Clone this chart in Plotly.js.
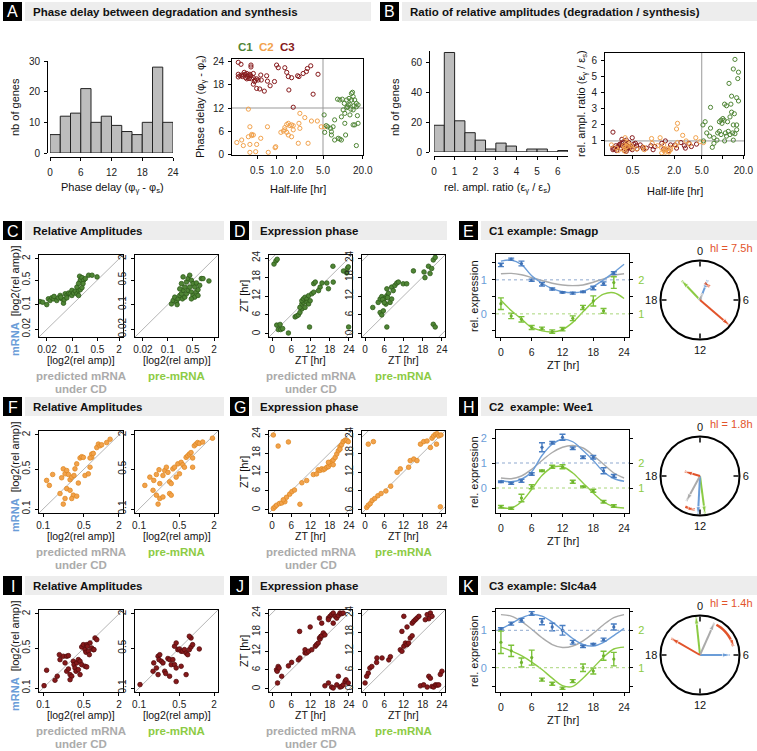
<!DOCTYPE html>
<html>
<head>
<meta charset="utf-8">
<script src="https://cdn.plot.ly/plotly-3.0.1.min.js"></script>
<style>
  html, body { margin: 0; padding: 0; background: #fff; }
  #fig { width: 757px; height: 751px; }
</style>
</head>
<body>
<div id="fig"></div>
<script>
'use strict';

const W = 757, H = 751;
const FONT = '"Liberation Sans", Arial, Helvetica, sans-serif';

const C1_COL = '#4f8535', C2_COL = '#f2a24c', C3_COL = '#86191b';
const MRNA_COL = '#6b9dd8', PRE_COL = '#8ccb44', PRED_COL = '#ababab', DEG_COL = '#e2542b';

// A: histogram of phase delays
const delayBinCenters = [1, 3, 5, 7, 9, 11, 13, 15, 17, 19, 21, 23];
const delayCounts = [6, 12, 13, 21, 10, 12, 9, 7, 6, 10, 28, 10];

// B: histogram of relative amplitude ratios
const ratioBinCenters = [0.25, 0.75, 1.25, 1.75, 2.25, 2.75, 3.25, 3.75, 4.25, 4.75, 5.25, 5.75, 6.25];
const ratioCounts = [18, 67, 21, 13, 8, 2, 6, 4, 0, 2, 2, 0, 1];

// A/B scatter: half-life, phase delay and amplitude ratio per gene
const c1HalfLife = [5.2, 5.6, 5.3, 5.9, 6.5, 7.1, 6.7, 7.5, 8.5, 9.0, 9.5, 8.3, 9.0, 10.5, 10.7, 9.5, 11.4, 11.8, 12.1, 12.8, 13.5, 14.3, 15.1, 16.0, 16.0, 17.0, 14.0, 13.5, 14.3, 12.8, 15.1, 14.3, 17.0, 16.0, 10.7, 7.5, 10.1, 12.4, 14.8, 11.4, 13.2, 16.6, 11.0, 6.7, 9.8];
const c1Delay = [10.2, 7.4, 5.65, 7.1, 6.7, 7.1, 5.8, 3.65, 4.1, 3.9, 3.65, 14.3, 14.1, 13.2, 10.6, 9.7, 14.1, 12.3, 12.8, 13.0, 14.1, 15.0, 14.1, 12.3, 13.2, 12.8, 16.1, 15.8, 11.5, 10.2, 7.6, 7.6, 8.0, 2.2, 8.0, 8.9, 11.5, 14.5, 12.6, 12.1, 11.7, 10.0, 4.96, 4.96, 14.3];
const c1Ratio = [2.0, 2.2, 1.0, 1.5, 1.3, 0.6, 3.1, 0.85, 1.5, 2.2, 2.3, 1.05, 1.6, 2.3, 3.3, 1.4, 3.2, 2.2, 1.6, 1.4, 3.8, 5.5, 6.1, 3.7, 2.0, 5.3, 1.5, 2.8, 1.05, 2.5, 1.45, 2.0, 3.5, 1.7, 1.0, 1.2, 2.4, 4.6, 2.7, 1.3, 3.3, 4.9, 1.5, 1.8, 2.1];

const c2HalfLife = [0.37, 0.247, 0.293, 0.31, 0.39, 0.415, 0.39, 0.415, 0.37, 0.44, 0.494, 0.39, 0.477, 0.57, 0.72, 0.74, 0.96, 0.94, 1.15, 1.25, 1.32, 1.41, 1.49, 1.58, 1.67, 1.77, 1.41, 1.49, 1.67, 2.11, 2.16, 2.23, 2.23, 2.65, 2.97, 3.34, 4.1, 4.7, 5.3, 1.77, 1.32];
const c2Delay = [11.7, 3.0, 3.65, 2.2, 2.5, 4.8, 7.1, 5.1, 4.5, 4.96, 2.5, 0.43, 0.6, 4.1, 7.1, 0.43, 1.9, 1.65, 5.65, 6.0, 6.9, 7.7, 8.0, 7.4, 7.6, 7.4, 5.65, 4.96, 4.5, 2.8, 8.0, 6.7, 10.6, 9.5, 2.8, 8.6, 8.6, 7.1, 7.1, 6.3, 6.3];
const c2Ratio = [0.7, 0.75, 0.55, 0.4, 0.6, 0.9, 1.2, 0.65, 0.45, 0.8, 0.55, 0.35, 0.7, 0.5, 0.6, 0.45, 0.85, 1.15, 0.7, 1.2, 0.55, 0.4, 0.3, 0.5, 0.35, 0.6, 0.75, 0.45, 0.3, 0.7, 1.75, 2.1, 0.9, 1.35, 1.0, 0.8, 1.2, 0.95, 0.9, 0.45, 0.25];

const c3HalfLife = [0.26, 0.286, 0.26, 0.26, 0.276, 0.31, 0.329, 0.35, 0.37, 0.39, 0.336, 0.36, 0.378, 0.405, 0.415, 0.44, 0.47, 0.494, 0.52, 0.405, 0.405, 0.57, 0.58, 0.44, 0.494, 0.55, 0.645, 0.79, 0.92, 0.70, 0.72, 0.99, 1.05, 1.32, 1.41, 1.49, 1.67, 2.06, 2.16, 2.5, 2.8, 2.9, 3.26, 4.2, 1.52, 3.54, 1.77, 0.30, 0.32, 0.46, 0.35, 0.293, 0.44];
const c3Delay = [23.9, 23.4, 20.8, 20.1, 20.4, 20.6, 20.8, 21.0, 20.6, 20.8, 19.9, 20.2, 19.7, 20.4, 19.6, 19.9, 19.3, 19.6, 19.3, 23.2, 22.7, 20.6, 19.3, 18.2, 17.1, 16.96, 16.4, 17.8, 18.9, 20.4, 19.0, 23.2, 22.5, 22.5, 21.3, 20.2, 19.9, 20.4, 20.2, 21.0, 21.5, 22.3, 23.0, 20.8, 16.7, 15.6, 12.2, 20.2, 21.3, 18.9, 19.6, 20.6, 21.0];
const c3Ratio = [0.55, 0.7, 1.55, 0.45, 0.5, 0.65, 0.8, 1.1, 0.95, 0.6, 0.55, 0.7, 0.4, 0.75, 0.5, 0.9, 0.65, 0.45, 0.8, 1.05, 0.35, 0.7, 0.5, 0.6, 1.2, 0.85, 0.75, 0.55, 0.7, 0.6, 0.5, 0.45, 0.65, 0.85, 0.5, 1.0, 0.4, 0.75, 0.55, 0.9, 0.7, 0.55, 0.85, 0.8, 0.45, 0.65, 0.75, 0.6, 0.75, 0.55, 0.85, 0.4, 0.65];

// C/F/I: relative amplitudes (x: predicted or pre-mRNA, y: mRNA)
const c1AmpPredX = [0.0128, 0.0152, 0.0197, 0.0219, 0.0244, 0.0272, 0.0302, 0.0315, 0.0374, 0.0417, 0.0464, 0.0516, 0.0575, 0.06, 0.064, 0.0713, 0.0794, 0.0883, 0.0983, 0.0983, 0.109, 0.122, 0.1355, 0.151, 0.168, 0.187, 0.1355, 0.168, 0.161, 0.187, 0.208, 0.232, 0.151, 0.287, 0.356, 0.49, 0.0713, 0.0484, 0.2, 0.151];
const c1AmpPredY = [0.122, 0.117, 0.10, 0.146, 0.131, 0.156, 0.146, 0.171, 0.131, 0.156, 0.182, 0.146, 0.11, 0.137, 0.203, 0.182, 0.213, 0.203, 0.254, 0.182, 0.213, 0.243, 0.203, 0.254, 0.265, 0.303, 0.316, 0.492, 0.641, 0.586, 0.492, 0.549, 0.182, 0.684, 0.684, 0.613, 0.156, 0.163, 0.395, 0.40];
const c1AmpPreX = [0.127, 0.1415, 0.157, 0.175, 0.195, 0.217, 0.242, 0.269, 0.258, 0.3, 0.334, 0.372, 0.413, 0.46, 0.512, 0.57, 0.635, 0.706, 0.334, 0.372, 0.46, 0.512, 0.57, 0.635, 0.787, 0.875, 0.975, 1.43, 0.242, 0.269, 0.413, 0.3, 0.217, 0.183, 0.46, 0.706];
const c1AmpPreY = [0.105, 0.131, 0.163, 0.117, 0.146, 0.182, 0.203, 0.254, 0.146, 0.163, 0.203, 0.254, 0.316, 0.228, 0.182, 0.163, 0.228, 0.265, 0.44, 0.549, 0.492, 0.395, 0.316, 0.413, 0.353, 0.549, 0.549, 0.47, 0.395, 0.613, 0.684, 0.316, 0.28, 0.1, 0.146, 0.182];

const c2AmpPredX = [0.115, 0.128, 0.146, 0.208, 0.222, 0.238, 0.254, 0.272, 0.29, 0.31, 0.339, 0.352, 0.377, 0.402, 0.43, 0.459, 0.49, 0.523, 0.597, 0.638, 0.682, 0.682, 0.726, 0.832, 0.886, 0.946, 1.01, 1.23, 1.41, 0.638, 0.254, 0.29, 0.33, 0.377, 0.195, 0.238, 0.31, 0.222];
const c2AmpPredY = [0.318, 0.26, 0.404, 0.354, 0.507, 0.415, 0.474, 0.404, 0.327, 0.363, 0.388, 0.507, 0.62, 0.286, 0.787, 0.83, 0.807, 0.388, 0.415, 0.542, 0.922, 0.807, 0.947, 1.2, 1.38, 1.29, 1.34, 1.47, 1.68, 0.787, 0.228, 0.213, 0.175, 0.168, 0.187, 0.153, 0.153, 0.122];
const c2AmpPreX = [0.126, 0.154, 0.18, 0.2, 0.222, 0.229, 0.26, 0.279, 0.298, 0.317, 0.339, 0.362, 0.386, 0.413, 0.441, 0.471, 0.503, 0.538, 0.574, 0.614, 0.656, 0.699, 0.746, 0.798, 0.851, 0.91, 0.972, 1.04, 1.11, 1.27, 1.88, 0.851, 0.2, 0.229, 0.26, 0.339, 0.362, 0.175, 0.214];
const c2AmpPreY = [0.26, 0.363, 0.318, 0.404, 0.49, 0.28, 0.388, 0.474, 0.542, 0.44, 0.3, 0.28, 0.507, 0.542, 0.363, 0.62, 0.415, 0.66, 0.6, 0.542, 0.807, 0.86, 0.922, 0.98, 0.787, 1.29, 1.38, 1.47, 1.42, 1.5, 1.75, 0.542, 0.175, 0.153, 0.163, 0.187, 0.175, 0.213, 0.122];

const c3AmpPredX = [0.104, 0.115, 0.16, 0.175, 0.19, 0.195, 0.222, 0.238, 0.254, 0.272, 0.254, 0.272, 0.29, 0.31, 0.33, 0.339, 0.352, 0.377, 0.402, 0.43, 0.459, 0.367, 0.43, 0.459, 0.49, 0.523, 0.544, 0.56, 0.574, 0.597, 0.638, 0.682, 0.726, 0.621, 0.523, 0.56, 0.777, 0.832, 0.746, 0.402, 0.29];
const c3AmpPredY = [0.11, 0.205, 0.137, 0.161, 0.385, 0.315, 0.361, 0.276, 0.361, 0.37, 0.197, 0.216, 0.172, 0.161, 0.295, 0.257, 0.225, 0.276, 0.315, 0.295, 0.257, 0.197, 0.172, 0.526, 0.577, 0.472, 0.425, 0.577, 0.541, 0.442, 0.618, 0.505, 0.472, 0.385, 0.241, 0.235, 0.757, 0.707, 0.472, 0.21, 0.14];
const c3AmpPreX = [0.104, 0.175, 0.18, 0.2, 0.214, 0.222, 0.229, 0.244, 0.26, 0.279, 0.29, 0.317, 0.339, 0.362, 0.386, 0.413, 0.441, 0.413, 0.441, 0.471, 0.503, 0.538, 0.538, 0.574, 0.614, 0.656, 0.699, 0.746, 0.798, 0.851, 0.798, 0.746, 1.11, 0.656, 0.441, 0.339, 0.214];
const c3AmpPreY = [0.115, 0.197, 0.276, 0.225, 0.361, 0.315, 0.385, 0.295, 0.276, 0.197, 0.18, 0.33, 0.315, 0.257, 0.315, 0.541, 0.618, 0.257, 0.225, 0.472, 0.485, 0.442, 0.241, 0.442, 0.472, 0.41, 0.385, 0.472, 0.526, 0.577, 0.757, 0.81, 0.485, 0.172, 0.13, 0.161, 0.172];

// D/G/J: expression phases in ZT hours (x: predicted or pre-mRNA, y: mRNA)
const c1PhasePredX = [0.6, 1.2, 1.6, 7.2, 7.7, 8.2, 8.7, 9.3, 8.7, 9.3, 9.8, 9.3, 9.8, 10.3, 10.9, 10.3, 10.9, 11.4, 11.9, 11.4, 12.4, 13.0, 13.0, 13.5, 15.0, 14.5, 15.6, 17.1, 17.6, 19.1, 22.3, 23.3, 23.5, 23.8, 19.0, 1.45, 1.95, 2.5, 2.7, 3.3, 5.1, 11.7, 23.9];
const c1PhasePredY = [22.1, 23.1, 23.6, 5.4, 5.7, 6.0, 6.8, 7.9, 8.4, 9.5, 10.0, 10.5, 11.1, 11.6, 11.1, 8.4, 10.0, 9.5, 10.5, 12.1, 12.7, 13.2, 15.9, 16.4, 14.8, 13.7, 16.1, 16.1, 14.3, 16.4, 19.9, 19.3, 20.7, 21.2, 21.4, 2.8, 1.4, 3.0, 1.4, 1.7, 0.3, 2.2, 2.2];
const c1PhasePreX = [2.4, 4.1, 4.7, 5.2, 5.7, 6.2, 6.8, 7.3, 7.8, 6.5, 8.3, 4.7, 5.2, 5.7, 6.8, 8.3, 8.8, 9.3, 9.9, 10.4, 11.9, 13.0, 15.1, 18.4, 18.7, 19.8, 20.3, 20.8, 21.3, 21.9, 6.8, 21.3, 21.9, 5.5, 6.0, 7.0];
const c1PhasePreY = [8.37, 9.98, 11.05, 11.8, 10.5, 11.37, 12.1, 12.87, 9.98, 9.44, 11.05, 6.77, 6.02, 7.3, 14.26, 14.8, 13.7, 15.33, 16.08, 16.4, 15.86, 15.86, 19.93, 19.6, 17.8, 21.4, 19.1, 20.7, 23.4, 24.2, 2.2, 3.05, 2.2, 10.9, 9.9, 11.5];

const c2PhasePredX = [0.4, 1.9, 5.1, 9.3, 10.8, 12.9, 13.9, 14.4, 14.98, 15.5, 16.0, 16.5, 17.1, 17.6, 18.1, 18.6, 19.1, 19.7, 20.2, 20.7, 21.2, 21.7, 22.2, 22.8, 23.3, 23.8, 21.2, 17.6, 19.1, 0.4, 0.9, 1.4, 2.3, 3.0, 4.0, 8.7, 5.5, 6.2, 7.0, 4.5, 3.5];
const c2PhasePredY = [23.7, 20.2, 21.5, 8.6, 9.3, 11.2, 11.4, 12.7, 12.5, 13.0, 12.7, 13.0, 13.5, 13.7, 14.5, 15.3, 15.8, 16.6, 17.7, 18.7, 19.96, 20.6, 21.6, 22.05, 22.05, 21.6, 19.2, 15.05, 14.3, 0.5, 1.0, 1.5, 2.05, 2.2, 2.6, 1.8, 5.0, 5.8, 6.3, 4.0, 3.2];
const c2PhasePreX = [1.0, 2.6, 10.0, 11.0, 13.6, 14.1, 15.2, 16.2, 17.3, 18.3, 19.35, 20.4, 20.9, 21.4, 21.95, 22.5, 23.0, 23.7, 22.3, 0.5, 1.0, 1.6, 2.2, 3.0, 4.0, 5.0, 6.5, 8.0, 23.5];
const c2PhasePreY = [20.8, 21.6, 11.9, 13.0, 13.5, 15.6, 16.1, 15.6, 20.8, 21.6, 21.8, 19.75, 22.7, 23.4, 23.9, 24.1, 23.4, 23.7, 20.8, 0.8, 1.5, 2.0, 3.0, 3.6, 4.5, 5.2, 6.0, 7.5, 1.0];

const c3PhasePredX = [1.4, 1.6, 1.9, 2.2, 1.7, 3.0, 5.1, 6.1, 8.2, 8.7, 8.6, 11.9, 10.3, 10.3, 10.8, 11.4, 12.4, 13.5, 13.9, 14.4, 14.8, 14.98, 15.2, 15.5, 16.0, 16.5, 14.8, 15.5, 17.6, 18.1, 18.6, 19.1, 19.7, 20.2, 20.7, 21.2, 19.1, 21.7, 22.2, 17.6, 16.5, 17.6, 18.6, 19.1, 20.2, 20.7, 21.2, 21.7, 22.2, 22.8, 23.1, 23.8];
const c3PhasePredY = [6.07, 5.6, 7.1, 6.6, 1.9, 4.0, 7.3, 8.4, 9.2, 9.8, 18.2, 19.6, 11.4, 12.4, 11.4, 11.9, 12.4, 13.5, 14.0, 14.5, 16.1, 15.8, 16.6, 16.8, 17.7, 17.1, 22.4, 20.8, 22.4, 22.96, 23.5, 24.0, 22.96, 22.4, 23.2, 24.0, 20.8, 23.8, 24.0, 21.9, 1.0, 1.9, 0.6, 0.3, 1.3, 4.0, 0.6, 0.8, 1.3, 2.4, 2.9, 1.9];
const c3PhasePreX = [0.0, 0.5, 1.0, 1.5, 2.1, 3.6, 3.7, 5.3, 7.4, 7.9, 11.0, 11.5, 12.1, 12.6, 13.1, 13.6, 14.1, 14.7, 11.5, 13.1, 14.7, 15.2, 15.7, 16.2, 16.8, 12.1, 19.4, 20.4, 20.9, 19.9, 18.8, 17.3, 18.3, 19.4, 19.9, 20.4, 20.9, 21.4, 22.0, 22.5, 23.0, 23.5, 24.0];
const c3PhasePreY = [1.9, 4.0, 5.0, 6.6, 7.1, 8.4, 9.8, 9.8, 9.2, 10.2, 12.4, 11.9, 13.5, 14.5, 14.0, 14.5, 16.1, 16.8, 18.2, 19.6, 20.8, 21.4, 21.9, 22.4, 22.96, 22.96, 23.5, 24.0, 22.96, 22.2, 21.9, 1.0, 1.3, 0.6, 4.0, 3.4, 0.8, 0.6, 1.3, 1.2, 1.3, 4.6, 5.6];

// E/H/K: example genes (mRNA on left axis, pre-mRNA on right axis)
const ZT = [0, 2, 4, 6, 8, 10, 12, 14, 16, 18, 20, 22];
const ZT_FIT = [0, 2, 4, 6, 8, 10, 12, 14, 16, 18, 20, 22, 24];

const smagpMrna = [1.44, 1.61, 1.48, 0.99, 0.87, 0.73, 0.63, 0.61, 0.65, 0.76, 0.89, 1.2];
const smagpMrnaErr = [0.05, 0.03, 0.07, 0.03, 0.05, 0.03, 0.02, 0.03, 0.02, 0.05, 0.05, 0.04];
const smagpPre = [1.30, 0.94, 0.84, 0.60, 0.57, 0.48, 0.55, 0.87, 1.19, 1.38, 1.09, 1.92];
const smagpPreErr = [0.17, 0.08, 0.08, 0.06, 0.04, 0.05, 0.05, 0.07, 0.06, 0.15, 0.07, 0.17];
const smagpMrnaFit = [1.55, 1.58, 1.45, 1.12, 0.9, 0.74, 0.65, 0.62, 0.66, 0.8, 1.0, 1.22, 1.46];
const smagpPredFit = [1.18, 1.19, 1.15, 1.07, 0.98, 0.9, 0.85, 0.83, 0.85, 0.93, 1.03, 1.13, 1.18];
const smagpPreFit = [1.4, 1.1, 0.85, 0.6, 0.5, 0.47, 0.54, 0.75, 1.06, 1.36, 1.58, 1.62, 1.45];

const wee1Mrna = [0.25, 0.19, 0.29, 0.56, 1.63, 1.81, 2.03, 1.59, 1.23, 1.23, 0.69, 0.48];
const wee1MrnaErr = [0.03, 0.04, 0.06, 0.05, 0.18, 0.05, 0.12, 0.05, 0.05, 0.07, 0.12, 0.06];
const wee1Pre = [0.25, 0.19, 0.6, 1.05, 1.69, 1.85, 1.85, 1.25, 1.05, 0.89, 0.45, 0.28];
const wee1PreErr = [0.05, 0.04, 0.15, 0.08, 0.03, 0.06, 0.08, 0.06, 0.03, 0.06, 0.05, 0.05];
const wee1MrnaFit = [0.3, 0.25, 0.35, 0.65, 1.3, 1.75, 1.95, 1.85, 1.5, 1.1, 0.65, 0.38, 0.27];
const wee1PredFit = [0.4, 0.37, 0.48, 0.75, 1.1, 1.42, 1.63, 1.7, 1.6, 1.3, 0.95, 0.6, 0.4];
const wee1PreFit = [0.22, 0.2, 0.45, 0.95, 1.5, 1.82, 1.85, 1.6, 1.2, 0.8, 0.45, 0.25, 0.2];

const slcMrna = [1.04, 1.18, 1.27, 1.45, 1.23, 1.09, 1.0, 0.68, 0.57, 0.63, 0.75, 1.09];
const slcMrnaErr = [0.03, 0.04, 0.05, 0.05, 0.08, 0.1, 0.13, 0.05, 0.03, 0.02, 0.04, 0.08];
const slcPre = [1.68, 1.45, 1.14, 1.27, 0.68, 0.57, 0.45, 0.64, 1.0, 0.91, 1.32, 1.23];
const slcPreErr = [0.3, 0.15, 0.12, 0.2, 0.04, 0.04, 0.03, 0.04, 0.1, 0.08, 0.12, 0.18];
const slcMrnaFit = [1.03, 1.18, 1.33, 1.42, 1.38, 1.22, 1.0, 0.78, 0.62, 0.58, 0.68, 0.86, 1.05];
const slcPredFit = [1.42, 1.38, 1.24, 1.03, 0.8, 0.62, 0.54, 0.58, 0.72, 0.92, 1.15, 1.34, 1.42];
const slcPreFit = [1.55, 1.45, 1.32, 1.15, 0.95, 0.72, 0.52, 0.5, 0.72, 1.0, 1.28, 1.5, 1.55];

// clock diagrams: arrows for pre-mRNA, mRNA, predicted mRNA, degradation
const arrowColours = [PRE_COL, MRNA_COL, PRED_COL, DEG_COL];
const smagpArrowZT = [21.1, 1.4, 1.2, 8.7];
const smagpArrowLen = [0.67, 0.54, 0.18, 0.98];
const wee1ArrowZT = [11.5, 12.2, 13.9, 19.1];
const wee1ArrowLen = [0.96, 0.97, 0.72, 0.4];
const slcArrowZT = [23.6, 6.0, 1.6, 20.0];
const slcArrowLen = [0.98, 0.76, 0.89, 0.84];

const HL_CUT = 5, DELAY_CUT = 12, RATIO_CUT = 1;

// ------------------------------------------------------------------
const data = [];
const layout = {
  width: W, height: H,
  margin: {l: 0, r: 0, t: 0, b: 0},
  showlegend: false,
  paper_bgcolor: '#fff', plot_bgcolor: 'rgba(0,0,0,0)',
  font: {family: FONT, size: 10, color: '#111'},
  shapes: [], annotations: []
};

const AXIS = {
  showline: true, linecolor: '#000', linewidth: 1,
  ticks: 'outside', ticklen: 3, tickwidth: 1, tickcolor: '#000',
  showgrid: false, zeroline: false, fixedrange: true,
  tickfont: {family: FONT, size: 10, color: '#222'}
};

function xdom(a, b) { return [a / W, b / W]; }
function ydom(top, bot) { return [1 - bot / H, 1 - top / H]; }

let nx = 0, ny = 0;
function subplot(xo, yo) {
  nx++; ny++;
  const xid = nx === 1 ? 'x' : 'x' + nx;
  const yid = ny === 1 ? 'y' : 'y' + ny;
  layout[xid.replace('x', 'xaxis')] = Object.assign({}, AXIS, {anchor: yid}, xo);
  layout[yid.replace('y', 'yaxis')] = Object.assign({}, AXIS, {anchor: xid}, yo);
  return {x: xid, y: yid};
}
function overlayY(base, opts) {
  ny++;
  layout['yaxis' + ny] = Object.assign({}, AXIS, {overlaying: base.y, anchor: base.x, side: 'right'}, opts);
  return 'y' + ny;
}

function txt(x, y, text, opts) {
  layout.annotations.push(Object.assign({
    x: x / W, y: 1 - y / H, xref: 'paper', yref: 'paper', text: text,
    showarrow: false, xanchor: 'center', yanchor: 'middle',
    font: {family: FONT, size: 11, color: '#111'}
  }, opts || {}));
}

function header(letter, title, lx, bx0, bx1, top) {
  layout.shapes.push({type: 'rect', xref: 'paper', yref: 'paper', x0: bx0 / W, x1: bx1 / W,
    y0: 1 - (top + 19) / H, y1: 1 - top / H, fillcolor: '#ededed', line: {width: 0}, layer: 'below'});
  layout.shapes.push({type: 'rect', xref: 'paper', yref: 'paper', x0: lx / W, x1: (lx + 19) / W,
    y0: 1 - (top + 19) / H, y1: 1 - top / H, fillcolor: '#000', line: {width: 0}, layer: 'below'});
  txt(lx + 9.5, top + 10, letter, {font: {family: FONT, size: 16, color: '#fff'}});
  txt(bx0 + 6, top + 10, '<b>' + title + '</b>', {xanchor: 'left', font: {family: FONT, size: 11.5, color: '#111'}});
}

function refLine(sp, xs, ys, col) {
  data.push({type: 'scatter', mode: 'lines', x: xs, y: ys, xaxis: sp.x, yaxis: sp.y,
    line: {color: col || '#b5b5b5', width: 1}, hoverinfo: 'skip'});
}

// ------------------------------------------------------------------
// row 1 headers
header('A', 'Phase delay between degradation and synthesis', 3, 25, 371, 2);
header('B', 'Ratio of relative amplitudes (degradation / synthesis)', 380, 402, 757, 2);

// A histogram
const hA = subplot(
  {domain: xdom(50, 173), range: [0, 24], tickvals: [0, 6, 12, 18, 24], anchor: 'free', position: 1 - 157 / H, ticklabelstandoff: 3},
  {domain: ydom(61, 153), range: [0, 30], tickvals: [0, 10, 20, 30], anchor: 'free', position: 47 / W, ticklabelstandoff: 2});
data.push({type: 'bar', x: delayBinCenters, y: delayCounts, width: 2, xaxis: hA.x, yaxis: hA.y,
  marker: {color: '#bdbdbd', line: {color: '#222', width: 1}}});
txt(15, 107, 'nb of genes', {textangle: -90});
txt(112, 188, 'Phase delay (φ<sub>γ</sub> - φ<sub>s</sub>)');

// A scatter
const sA = subplot(
  {domain: xdom(232, 363), type: 'log', range: [-0.68, 1.305], tickvals: [0.5, 1, 2, 5, 20],
   ticktext: ['0.5', '1.0', '2.0', '5.0', '20.0'], mirror: true, ticklabelstandoff: 3},
  {domain: ydom(59, 155), range: [-0.26, 24.78], tickvals: [0, 6, 12, 18, 24], mirror: true, ticklabelstandoff: 2});
refLine(sA, [HL_CUT, HL_CUT], [-5, 30], '#999');
refLine(sA, [0.05, 50], [DELAY_CUT, DELAY_CUT], '#999');
[[c3HalfLife, c3Delay, C3_COL], [c2HalfLife, c2Delay, C2_COL], [c1HalfLife, c1Delay, C1_COL]].forEach(function (s) {
  data.push({type: 'scatter', mode: 'markers', x: s[0], y: s[1], xaxis: sA.x, yaxis: sA.y,
    marker: {symbol: 'circle-open', size: 4.2, color: s[2], line: {width: 1}}});
});
txt(201, 107, 'Phase delay (φ<sub>γ</sub> - φ<sub>s</sub>)', {textangle: -90});
txt(298, 189, 'Half-life [hr]');
txt(245, 47, '<b>C1</b>', {font: {family: FONT, size: 11.5, color: C1_COL}});
txt(266, 47, '<b>C2</b>', {font: {family: FONT, size: 11.5, color: C2_COL}});
txt(287, 47, '<b>C3</b>', {font: {family: FONT, size: 11.5, color: C3_COL}});

// B histogram
const hB = subplot(
  {domain: xdom(434, 568), range: [0, 6.5], tickvals: [0, 1, 2, 3, 4, 5, 6], anchor: 'free', position: 1 - 156 / H, ticklabelstandoff: 3},
  {domain: ydom(51, 152), range: [0, 68], tickvals: [0, 20, 40, 60], anchor: 'free', position: 429 / W, ticklabelstandoff: 2});
data.push({type: 'bar', x: ratioBinCenters, y: ratioCounts, width: 0.5, xaxis: hB.x, yaxis: hB.y,
  marker: {color: '#bdbdbd', line: {color: '#222', width: 1}}});
txt(395, 107, 'nb of genes', {textangle: -90});
txt(497, 188, 'rel. ampl. ratio (ε<sub>γ</sub> / ε<sub>s</sub>)');

// B scatter
const sB = subplot(
  {domain: xdom(605, 744), type: 'log', range: [-0.70, 1.31], tickvals: [0.5, 2, 5, 10, 20],
   ticktext: ['0.5', '2.0', '5.0', '', '20.0'], mirror: true, ticklabelstandoff: 3},
  {domain: ydom(53, 155), range: [0.12, 6.5], tickvals: [1, 2, 3, 4, 5, 6], mirror: true, ticklabelstandoff: 2});
refLine(sB, [HL_CUT, HL_CUT], [-1, 10], '#999');
refLine(sB, [0.05, 50], [RATIO_CUT, RATIO_CUT], '#999');
[[c3HalfLife, c3Ratio, C3_COL], [c2HalfLife, c2Ratio, C2_COL], [c1HalfLife, c1Ratio, C1_COL]].forEach(function (s) {
  data.push({type: 'scatter', mode: 'markers', x: s[0], y: s[1], xaxis: sB.x, yaxis: sB.y,
    marker: {symbol: 'circle-open', size: 4.2, color: s[2], line: {width: 1}}});
});
txt(582, 104, 'rel. ampl. ratio (ε<sub>γ</sub> / ε<sub>s</sub>)', {textangle: -90});
txt(675, 191, 'Half-life [hr]');

// ------------------------------------------------------------------
const rows = [
  {top: 221, letters: ['C', 'D', 'E'], gene: 'C1 example: Smagp', col: C1_COL, edge: '#2f5c1b',
   ampRange: [-1.92, 0.41], ampTicks: [0.02, 0.1, 0.5, 2],
   amp: [[c1AmpPredX, c1AmpPredY], [c1AmpPreX, c1AmpPreY]], phase: [[c1PhasePredX, c1PhasePredY], [c1PhasePreX, c1PhasePreY]],
   expr: {mrna: smagpMrna, mrnaErr: smagpMrnaErr, pre: smagpPre, preErr: smagpPreErr,
          mrnaFit: smagpMrnaFit, predFit: smagpPredFit, preFit: smagpPreFit},
   left: [-0.68, 1.76], leftTicks: [-0.5, 0, 0.5, 1, 1.5], leftText: ['', '0', '', '1', ''],
   rightTicks: [0.5, 1, 1.5, 2, 2.5], rightText: ['', '1', '', '2', ''],
   clockZT: smagpArrowZT, clockLen: smagpArrowLen, arc: [1.5, 2.4, 0.42], hl: 'hl = 7.5h'},
  {top: 397, letters: ['F', 'G', 'H'], gene: 'C2&nbsp;&nbsp;example: Wee1', col: C2_COL, edge: '#e08a24',
   ampRange: [-1.07, 0.37], ampTicks: [0.1, 0.5, 2],
   amp: [[c2AmpPredX, c2AmpPredY], [c2AmpPreX, c2AmpPreY]], phase: [[c2PhasePredX, c2PhasePredY], [c2PhasePreX, c2PhasePreY]],
   expr: {mrna: wee1Mrna, mrnaErr: wee1MrnaErr, pre: wee1Pre, preErr: wee1PreErr,
          mrnaFit: wee1MrnaFit, predFit: wee1PredFit, preFit: wee1PreFit},
   left: [-1.0, 2.32], leftTicks: [0, 1, 2], leftText: ['0', '1', '2'],
   rightTicks: [1, 2, 3], rightText: ['1', '2', ''],
   clockZT: wee1ArrowZT, clockLen: wee1ArrowLen, arc: [13.7, 12.6, 0.86], hl: 'hl = 1.8h'},
  {top: 576, letters: ['I', 'J', 'K'], gene: 'C3 example: Slc4a4', col: C3_COL, edge: '#550c0c',
   ampRange: [-1.07, 0.37], ampTicks: [0.1, 0.5, 2],
   amp: [[c3AmpPredX, c3AmpPredY], [c3AmpPreX, c3AmpPreY]], phase: [[c3PhasePredX, c3PhasePredY], [c3PhasePreX, c3PhasePreY]],
   expr: {mrna: slcMrna, mrnaErr: slcMrnaErr, pre: slcPre, preErr: slcPreErr,
          mrnaFit: slcMrnaFit, predFit: slcPredFit, preFit: slcPreFit},
   left: [-0.65, 1.57], leftTicks: [-0.5, 0, 0.5, 1, 1.5], leftText: ['', '0', '', '1', ''],
   rightTicks: [0.5, 1, 1.5, 2, 2.5], rightText: ['', '1', '', '2', ''],
   clockZT: slcArrowZT, clockLen: slcArrowLen, arc: [1.9, 5.0, 0.87], hl: 'hl = 1.4h'}
];

const ampBoxes = [[39, 123], [135, 218]];
const phaseBoxes = [[269, 352], [362, 445]];
const captions = [
  ['<b>predicted mRNA</b>', '<b>under CD</b>', PRED_COL],
  ['<b>pre-mRNA</b>', '', PRE_COL]
];

rows.forEach(function (row, ri) {
  const T = row.top;
  header(row.letters[0], 'Relative Amplitudes', 3, 25, 224, T);
  header(row.letters[1], 'Expression phase', 230, 252, 447, T);
  header(row.letters[2], row.gene, 459, 481, 757, T);

  const marker = {symbol: 'circle', size: 4.6, color: row.col, line: {color: row.edge, width: 0.8}};

  // relative amplitudes
  ampBoxes.forEach(function (b, k) {
    const sp = subplot(
      {domain: xdom(b[0], b[1]), type: 'log', range: row.ampRange, tickvals: row.ampTicks,
       ticktext: row.ampTicks.map(String), mirror: true, ticklabelstandoff: 0},
      {domain: ydom(T + 34, T + 116), type: 'log', range: row.ampRange, tickvals: row.ampTicks,
       ticktext: row.ampTicks.map(String), mirror: true, tickangle: -90, ticklabelstandoff: 1});
    refLine(sp, [0.001, 10], [0.001, 10]);
    data.push({type: 'scatter', mode: 'markers', x: row.amp[k][0], y: row.amp[k][1],
      xaxis: sp.x, yaxis: sp.y, marker: marker});
    const cx = (b[0] + b[1]) / 2;
    txt(cx, T + 139, '[log2(rel amp)]', {font: {family: FONT, size: 10.5, color: '#111'}});
    txt(cx, T + 155, captions[k][0], {font: {family: FONT, size: 11.5, color: captions[k][2]}});
    if (captions[k][1]) txt(cx, T + 168, captions[k][1], {font: {family: FONT, size: 11.5, color: captions[k][2]}});
  });
  txt(15, T + 80, '<span style="color:' + MRNA_COL + '"><b>mRNA</b></span>  [log2(rel amp)]', {textangle: -90});

  // expression phases
  phaseBoxes.forEach(function (b, k) {
    const sp = subplot(
      {domain: xdom(b[0], b[1]), range: [-0.96, 24.96], tickvals: [0, 6, 12, 18, 24], mirror: true, ticklabelstandoff: 0},
      {domain: ydom(T + 34, T + 116), range: [-0.96, 24.96], tickvals: [0, 6, 12, 18, 24],
       mirror: true, tickangle: -90, ticklabelstandoff: 1});
    refLine(sp, [-5, 30], [-5, 30]);
    refLine(sp, [-5, 5], [19, 29]);
    refLine(sp, [19, 29], [-5, 5]);
    data.push({type: 'scatter', mode: 'markers', x: row.phase[k][0], y: row.phase[k][1],
      xaxis: sp.x, yaxis: sp.y, marker: marker});
    const cx = (b[0] + b[1]) / 2;
    txt(cx, T + 139, 'ZT [hr]', {font: {family: FONT, size: 10.5, color: '#111'}});
    txt(cx, T + 155, captions[k][0], {font: {family: FONT, size: 11.5, color: captions[k][2]}});
    if (captions[k][1]) txt(cx, T + 168, captions[k][1], {font: {family: FONT, size: 11.5, color: captions[k][2]}});
  });
  txt(244, T + 75, 'ZT [hr]', {textangle: -90});

  // example time course
  const sp = subplot(
    {domain: xdom(496, 629), range: [-0.96, 24.96], tickvals: [0, 6, 12, 18, 24], mirror: true, ticklabelstandoff: 2,
     tickfont: {family: FONT, size: 10.5, color: '#222'}},
    {domain: ydom(T + 33, T + 116), range: row.left, tickvals: row.leftTicks, ticktext: row.leftText,
     ticklabelstandoff: 3, tickfont: {family: FONT, size: 11, color: MRNA_COL}});
  const yR = overlayY(sp, {range: [row.left[0] + 1, row.left[1] + 1], tickvals: row.rightTicks,
    ticktext: row.rightText, ticklabelstandoff: 3, tickfont: {family: FONT, size: 11, color: PRE_COL}});
  layout.shapes.push({type: 'line', xref: sp.x + ' domain', x0: 0, x1: 1, yref: sp.y, y0: 1, y1: 1,
    line: {color: '#8fa9cf', width: 1, dash: 'dot'}});
  layout.shapes.push({type: 'line', xref: sp.x + ' domain', x0: 0, x1: 1, yref: sp.y, y0: 0, y1: 0,
    line: {color: '#a9d67a', width: 1, dash: 'dot'}});
  const e = row.expr;
  data.push({type: 'scatter', mode: 'lines', x: ZT_FIT, y: e.predFit, xaxis: sp.x, yaxis: sp.y,
    line: {color: PRED_COL, width: 1.4, shape: 'spline'}});
  data.push({type: 'scatter', mode: 'lines', x: ZT_FIT, y: e.mrnaFit, xaxis: sp.x, yaxis: sp.y,
    line: {color: MRNA_COL, width: 1.4, shape: 'spline'}});
  data.push({type: 'scatter', mode: 'lines', x: ZT_FIT, y: e.preFit, xaxis: sp.x, yaxis: yR,
    line: {color: PRE_COL, width: 1.4, shape: 'spline'}});
  data.push({type: 'scatter', mode: 'markers', x: ZT, y: e.mrna, xaxis: sp.x, yaxis: sp.y,
    marker: {size: 3.2, color: '#3f70b3'},
    error_y: {type: 'data', array: e.mrnaErr, color: '#4a7fc4', thickness: 1.4, width: 3}});
  data.push({type: 'scatter', mode: 'markers', x: ZT, y: e.pre, xaxis: sp.x, yaxis: yR,
    marker: {size: 3.2, color: '#6fb32e'},
    error_y: {type: 'data', array: e.preErr, color: '#7cc23a', thickness: 1.4, width: 3}});
  txt(474, T + 75, 'rel. expression', {textangle: -90});
  txt(563, T + 144, 'ZT [hr]');

  // clock
  const pid = ri === 0 ? 'polar' : 'polar' + (ri + 1);
  const cx = 700, cy = T + 79, r = 39.5;
  layout[pid] = {
    domain: {x: [(cx - r) / W, (cx + r) / W], y: [1 - (cy + r) / H, 1 - (cy - r) / H]},
    bgcolor: 'rgba(0,0,0,0)',
    radialaxis: {visible: false, range: [0, 1]},
    angularaxis: {rotation: 90, direction: 'clockwise', tickvals: [0, 90, 180, 270], ticktext: ['0', '6', '12', '18'],
      showgrid: false, linecolor: '#000', linewidth: 2, ticks: 'inside', ticklen: 5, tickwidth: 1.5, tickcolor: '#000',
      tickfont: {family: FONT, size: 11, color: '#111'}}
  };
  row.clockZT.forEach(function (z, k) {
    const th = z * 15;
    data.push({type: 'scatterpolar', subplot: pid, r: [0, row.clockLen[k]], theta: [th, th], mode: 'lines+markers',
      line: {color: arrowColours[k], width: 2},
      marker: {symbol: 'arrow', size: [0, 8], angle: [th, th], color: arrowColours[k]}});
  });
  const a0 = row.arc[0], a1 = row.arc[1], steps = 10;
  const arcTheta = [];
  for (let i = 0; i <= steps; i++) arcTheta.push((a0 + (a1 - a0) * i / steps) * 15);
  const endDir = a1 * 15 + (a1 > a0 ? 90 : -90);
  data.push({type: 'scatterpolar', subplot: pid, r: arcTheta.map(function () { return row.arc[2]; }), theta: arcTheta,
    mode: 'lines+markers', line: {color: DEG_COL, width: 2.5},
    marker: {symbol: 'arrow', size: arcTheta.map(function (t, i) { return i === steps ? 7 : 0; }),
             angle: arcTheta.map(function () { return endDir; }), color: DEG_COL}});
  txt(cx + 31, T + 27, row.hl, {font: {family: FONT, size: 11, color: DEG_COL}});
});

Plotly.newPlot('fig', data, layout, {staticPlot: true, displayModeBar: false});
</script>
</body>
</html>
